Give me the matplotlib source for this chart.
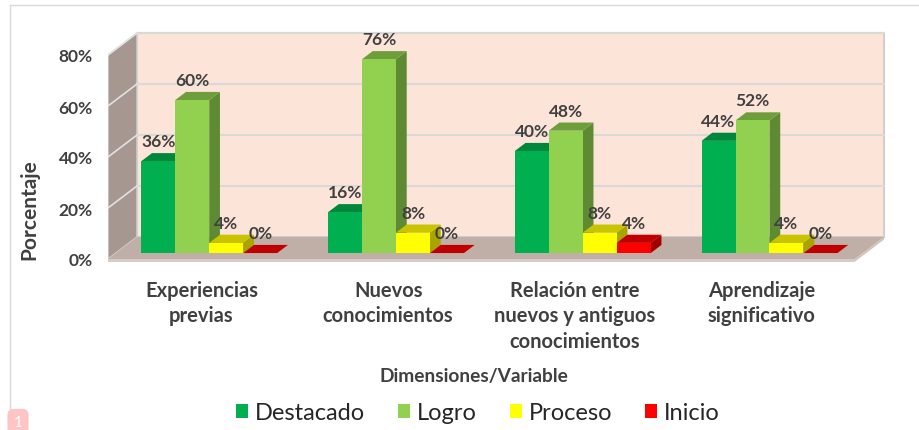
import matplotlib
matplotlib.use("Agg")
import matplotlib.pyplot as plt
from matplotlib.patches import Polygon, Patch
from matplotlib.lines import Line2D

plt.rcParams['font.family'] = ['Lato', 'DejaVu Sans']

categorias = [
    "Experiencias\nprevias",
    "Nuevos\nconocimientos",
    "Relación entre\nnuevos y antiguos\nconocimientos",
    "Aprendizaje\nsignificativo",
]
niveles = ["Destacado", "Logro", "Proceso", "Inicio"]
destacado = [36, 16, 40, 44]
logro = [60, 76, 48, 52]
proceso = [4, 8, 8, 4]
inicio = [0, 0, 4, 0]
series = [destacado, logro, proceso, inicio]
yticks = [0, 20, 40, 60, 80]

# (frente, tapa, lado)
colores = [
    ("#00B050", "#00873C", "#007A36"),
    ("#92D050", "#6E9E3C", "#5E8A33"),
    ("#FFFF00", "#C8C400", "#A8A500"),
    ("#FF0000", "#C00000", "#A00000"),
]

# perspectiva (en unidades de datos)
DX = 0.1553
DY = 8.63
F0, F1 = 0.27, 0.64
ANCHO = 0.182
TEXTO = "#404040"

fig = plt.figure(figsize=(9.2, 4.31), dpi=100)
ax = fig.add_axes([108 / 920, (431 - 265.1) / 431, 784.4 / 920, (265.1 - 30.5) / 431])
ax.set_xlim(-0.5, 3.7)
ax.set_ylim(-2, 90)
for s in ax.spines.values():
    s.set_visible(False)
ax.patch.set_visible(False)

x_izq, x_der = -0.5, len(categorias) - 0.5
y_max = yticks[-1]

# pared del fondo
ax.add_patch(Polygon([(x_izq + DX, DY), (x_der + DX, DY), (x_der + DX, y_max + DY), (x_izq + DX, y_max + DY)],
                     closed=True, facecolor="#FDE4D8", edgecolor="#CFCFCF", lw=1.5, zorder=1))
# pared izquierda
ax.add_patch(Polygon([(x_izq, 0), (x_izq + DX, DY), (x_izq + DX, y_max + DY), (x_izq, y_max)],
                     closed=True, facecolor="#A69790", edgecolor="#D5D5D5", lw=1.0, zorder=1))
# piso
ax.add_patch(Polygon([(x_izq, 0), (x_der, 0), (x_der + DX, DY), (x_izq + DX, DY)],
                     closed=True, facecolor="#BFAFA6", edgecolor="none", zorder=1))
ax.add_patch(Polygon([(x_izq, -1.0), (x_der, -1.0), (x_der, 0), (x_izq, 0)],
                     closed=True, facecolor="#D6CCC6", edgecolor="none", zorder=1))
ax.add_patch(Polygon([(x_der, -1.0), (x_der + DX, DY - 1.0), (x_der + DX, DY), (x_der, 0)],
                     closed=True, facecolor="#CFC4BD", edgecolor="none", zorder=1))

# lineas de cuadricula
for v in yticks[1:]:
    ax.add_line(Line2D([x_izq + DX, x_der + DX], [v + DY, v + DY], color="#D9D9D9", lw=1.5, zorder=2))
    ax.add_line(Line2D([x_izq, x_izq + DX], [v, v + DY], color="#E2E2E2", lw=1.2, zorder=2))

# barras 3D
dd = F1 - F0
for i in range(len(categorias)):
    for j, vals in enumerate(series):
        v = vals[i]
        frente, tapa, lado = colores[j]
        x0 = i - 2 * ANCHO + j * ANCHO + F0 * DX
        y0 = F0 * DY
        z = 5 + i * 10 + j
        ax.add_patch(Polygon([(x0 + ANCHO, y0), (x0 + ANCHO, y0 + v),
                              (x0 + ANCHO + dd * DX, y0 + v + dd * DY), (x0 + ANCHO + dd * DX, y0 + dd * DY)],
                             closed=True, facecolor=lado, edgecolor="none", zorder=z))
        ax.add_patch(Polygon([(x0, y0 + v), (x0 + ANCHO, y0 + v),
                              (x0 + ANCHO + dd * DX, y0 + v + dd * DY), (x0 + dd * DX, y0 + v + dd * DY)],
                             closed=True, facecolor=tapa, edgecolor="none", zorder=z))
        ax.bar(x0, v, width=ANCHO, bottom=y0, align="edge", color=frente, edgecolor="none", zorder=z)
        ax.annotate(f"{v}%", (x0 + ANCHO / 2, y0 + v), xytext=(0, 14.5), textcoords="offset points",
                    ha="center", va="center", fontsize=12.5, fontweight="bold", color=TEXTO, zorder=50)

# ejes
ax.set_yticks(yticks)
ax.set_yticklabels([f"{v}%" for v in yticks])
ax.tick_params(axis="y", length=0, pad=11, labelsize=12.5, labelcolor=TEXTO)
for lab in ax.get_yticklabels():
    lab.set_fontweight("bold")
ax.set_xticks([])

for i, cat in enumerate(categorias):
    ax.annotate(cat, (i, 0), xytext=(0, -15), textcoords="offset points", ha="center", va="top",
                fontsize=14.5, fontweight="bold", color=TEXTO, linespacing=1.35)

fig.text(474 / 920, 1 - 377 / 431, "Dimensiones/Variable", ha="center", va="center",
         fontsize=13.8, fontweight="bold", color=TEXTO)
fig.text(29 / 920, 1 - 210 / 431, "Porcentaje", ha="center", va="center", rotation=90,
         fontsize=15, fontweight="bold", color=TEXTO)

handles = [Patch(facecolor=c[0], edgecolor="none") for c in colores]
fig.legend(handles, niveles, loc="center", bbox_to_anchor=(478 / 920, 1 - 414 / 431), ncol=4,
           frameon=False, fontsize=17, handlelength=0.5, handleheight=0.5, handletextpad=0.3,
           columnspacing=1.4, labelcolor="#262626")

# marco y marcador de pagina
fig.add_artist(Line2D([10 / 920, 1], [1 - 6 / 431, 1 - 6 / 431], transform=fig.transFigure, color="#D9D9D9", lw=1))
fig.add_artist(Line2D([10 / 920, 10 / 920], [1 - 6 / 431, 1 - 412 / 431], transform=fig.transFigure, color="#D9D9D9", lw=1))
fig.text(18 / 920, 1 - 423 / 431, "1", ha="center", va="center", fontsize=11, color="white",
         bbox=dict(boxstyle="round,pad=0.4", facecolor="#FFC4C4", edgecolor="none"))

fig.savefig("out.png", dpi=100)
